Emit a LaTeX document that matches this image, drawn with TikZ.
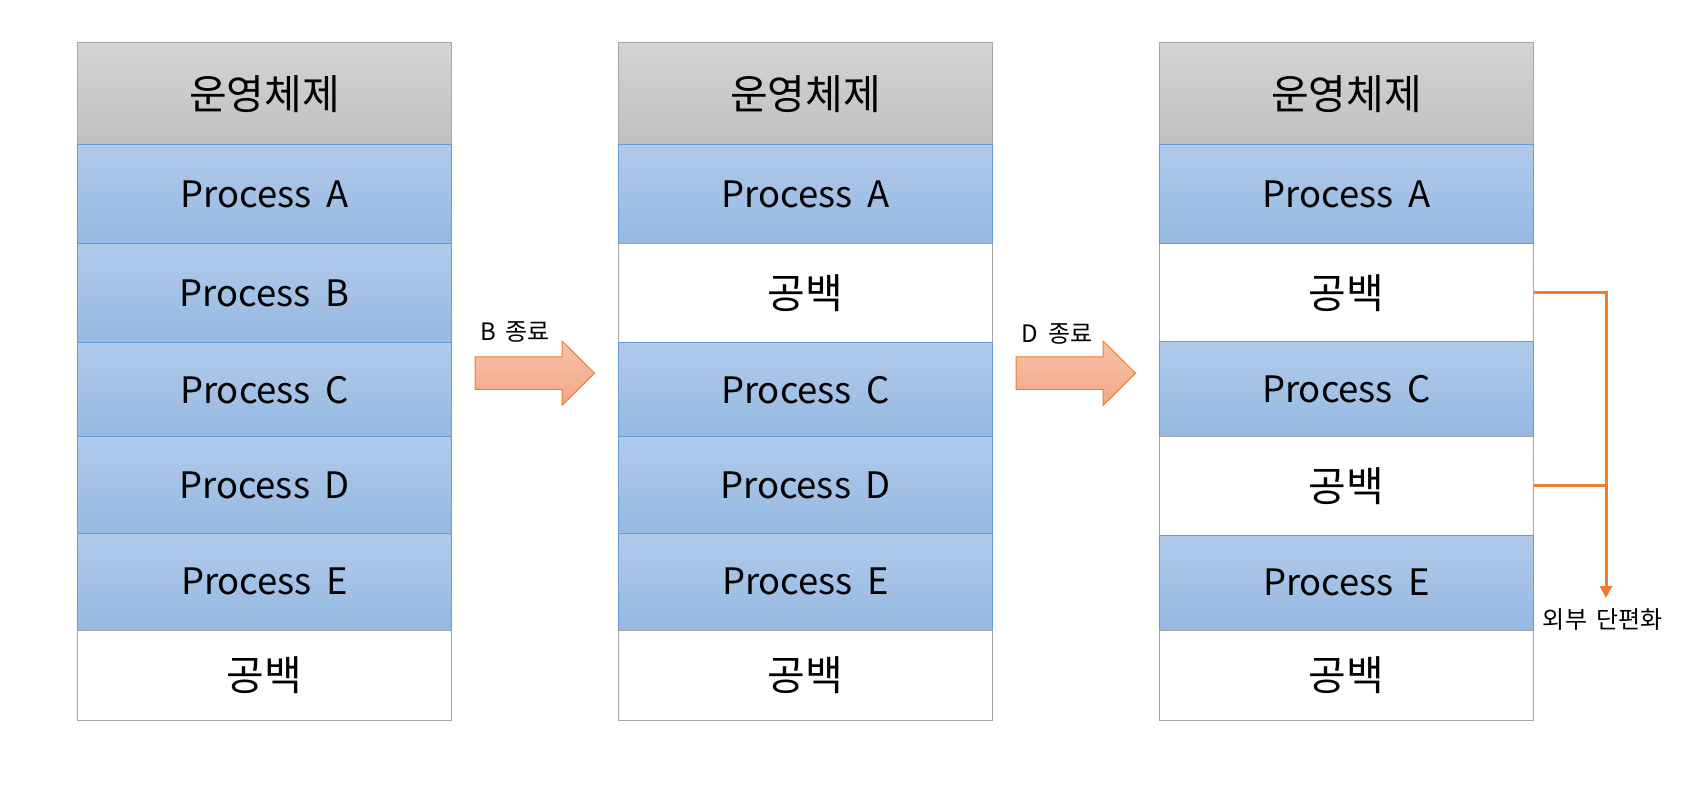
\documentclass[tikz,border=0pt]{standalone}
\usepackage{fontspec}
\setmainfont{Noto Sans CJK KR}
\newfontfamily\widespacefont[WordSpace=1.6]{Noto Sans CJK KR}
\newfontfamily\labelfont[WordSpace=1.8]{Noto Sans CJK KR}
\usetikzlibrary{arrows.meta}
\definecolor{osTop}{RGB}{212,212,212}
\definecolor{osBot}{RGB}{192,192,192}
\definecolor{grayLine}{RGB}{166,166,166}
\definecolor{prTop}{RGB}{176,202,233}
\definecolor{prBot}{RGB}{149,185,227}
\definecolor{prLine}{RGB}{100,155,215}
\definecolor{arTop}{RGB}{248,194,168}
\definecolor{arBot}{RGB}{243,167,134}
\definecolor{orangeLine}{RGB}{237,125,49}
\tikzset{
  blk/.style={inner sep=0pt, minimum width=187pt, line width=0.5pt,
    font=\fontsize{20.5pt}{24pt}\selectfont},
  osbox/.style={blk, draw=grayLine, top color=osTop, bottom color=osBot},
  prbox/.style={blk, draw=prLine, top color=prTop, bottom color=prBot,
    font=\widespacefont\fontsize{18.2pt}{22pt}\selectfont},
  freebox/.style={blk, draw=grayLine, fill=white},
  bigarrow/.style={draw=orangeLine, line width=0.5pt, top color=arTop, bottom color=arBot},
  smalltext/.style={inner sep=0pt, font=\labelfont\fontsize{12pt}{14pt}\selectfont},
  fragline/.style={draw=orangeLine, line width=1.5pt},
}
\begin{document}
\begin{tikzpicture}[x=0.5pt,y=-0.5pt]
\useasboundingbox (0,0) rectangle (1692,796);
% column 1
\node[osbox,  minimum height=51pt]   (a0) at (264.5,94)    {운영체제};
\node[prbox,  minimum height=49.5pt] (a1) at (264.5,194.5) {Process A};
\node[prbox,  minimum height=49.5pt] (a2) at (264.5,293.5) {Process B};
\node[prbox,  minimum height=47pt]   (a3) at (264.5,390)   {Process C};
\node[prbox,  minimum height=48pt]   (a4) at (264.5,485)   {Process D};
\node[prbox,  minimum height=48.5pt] (a5) at (264.5,581.5) {Process E};
\node[freebox,minimum height=45pt]   (a6) at (264.5,675)   {공백};
% column 2
\node[osbox,  minimum height=51pt]   (b0) at (805.5,94)    {운영체제};
\node[prbox,  minimum height=49.5pt] (b1) at (805.5,194.5) {Process A};
\node[freebox,minimum height=49.5pt] (b2) at (805.5,293.5) {공백};
\node[prbox,  minimum height=47pt]   (b3) at (805.5,390)   {Process C};
\node[prbox,  minimum height=48pt]   (b4) at (805.5,485)   {Process D};
\node[prbox,  minimum height=48.5pt] (b5) at (805.5,581.5) {Process E};
\node[freebox,minimum height=45pt]   (b6) at (805.5,675)   {공백};
% column 3
\node[osbox,  minimum height=51pt]   (c0) at (1346.5,94)    {운영체제};
\node[freebox,minimum height=49pt]   (c2) at (1346.5,293)   {공백};
\node[prbox,  minimum height=49.5pt] (c1) at (1346.5,194.5) {Process A};
\node[prbox,  minimum height=47.5pt] (c3) at (1346.5,389.5) {Process C};
\node[freebox,minimum height=49pt]   (c4) at (1346.5,486)   {공백};
\node[prbox,  minimum height=47.5pt] (c5) at (1346.5,582.5) {Process E};
\node[freebox,minimum height=45pt]   (c6) at (1346.5,675)   {공백};
% transition arrows
\draw[bigarrow] (475,357) -- (562,357) -- (562,341) -- (594.5,373.2) -- (562,405.5) -- (562,389.5) -- (475,389.5) -- cycle;
\node[smalltext] (lb) at (515,332) {B 종료};
\draw[bigarrow] (1016,357) -- (1103,357) -- (1103,341) -- (1135.5,373.2) -- (1103,405.5) -- (1103,389.5) -- (1016,389.5) -- cycle;
\node[smalltext] (ld) at (1057,334) {D 종료};
% external fragmentation bracket
\coordinate (fragend) at (1606,598);
\draw[fragline, -{Triangle[width=6pt,length=6pt]}] (c2.east) -| (fragend);
\draw[fragline] (c4.east) -- (c4.east -| fragend);
\node[smalltext] (lf) at (1603,620) {외부 단편화};
\end{tikzpicture}
\end{document}
